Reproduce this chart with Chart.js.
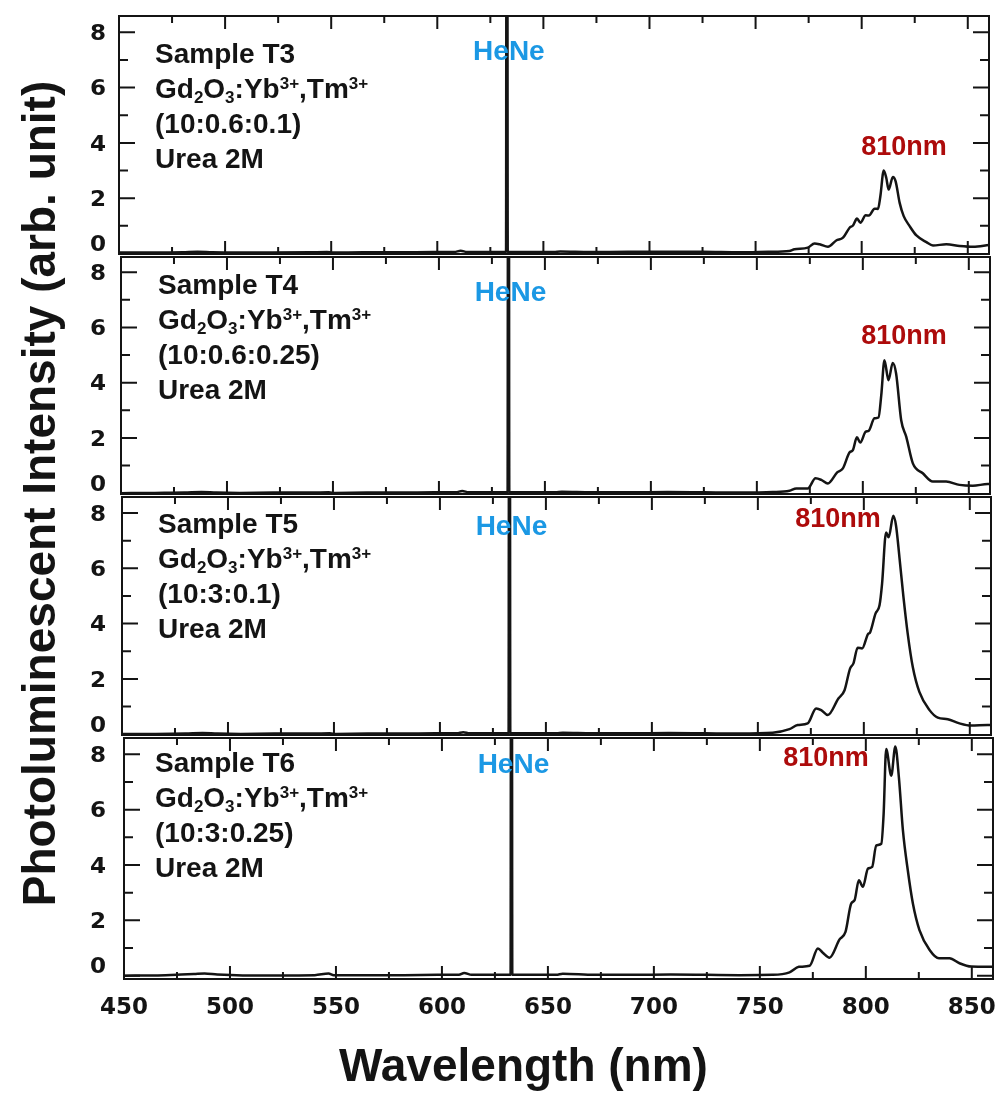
<!DOCTYPE html>
<html>
<head>
<meta charset="utf-8">
<title>Photoluminescence spectra, samples T3–T6</title>
<script src="https://cdn.jsdelivr.net/npm/chart.js@4.4.1/dist/chart.umd.min.js"></script>
<style>
  html, body { margin: 0; padding: 0; background: #ffffff; }
  #wrap { position: relative; width: 996px; height: 1094px; }
  #wrap canvas { position: absolute; left: 0; top: 0; }
</style>
</head>
<body>
<div id="wrap">
  <canvas id="panelT3" width="996" height="1094"></canvas>
  <canvas id="panelT4" width="996" height="1094"></canvas>
  <canvas id="panelT5" width="996" height="1094"></canvas>
  <canvas id="panelT6" width="996" height="1094"></canvas>
</div>
<script>
// ---- tick labels and annotation text ----
const xTicks = [450, 500, 550, 600, 650, 700, 750, 800, 850];
const yTicks = [0, 2, 4, 6, 8];
const sampleNames = ['Sample T3', 'Sample T4', 'Sample T5', 'Sample T6'];
const ratios = ['(10:0.6:0.1)', '(10:0.6:0.25)', '(10:3:0.1)', '(10:3:0.25)'];
const solvent = 'Urea 2M';
const laserName = 'HeNe';
const laserLine = 632.8;          // nm, HeNe excitation line (off scale)
const peakLabel = '810nm';
const xTitle = 'Wavelength (nm)';
const yTitle = 'Photoluminescent Intensity (arb. unit)';

// ---- spectra: wavelength (nm) and intensity (arb. unit) ----
const wavelengthT3 = [450, 466, 480, 487, 494, 505, 522, 540, 548, 551, 565, 582, 598, 608, 611, 614, 622, 632.4, 632.6, 633.0, 633.2, 642, 655, 658, 672, 690, 708, 725,
  742.4, 756, 765.9, 768.3, 774.6, 777.8, 780.2, 784.1, 788.0, 791.2, 794.3, 795.9, 797.8, 799.4, 801.9, 803.4, 806.1, 807.7, 808.8,
  810.4, 811.6, 812.7, 814.7, 816.0, 817.9, 819.8, 822.6, 825.8, 830.5, 833.6, 839.9, 846.2, 852.5, 860];
const intensityT3 = [0.03, 0.03, 0.04, 0.06, 0.04, 0.03, 0.03, 0.04, 0.05, 0.03, 0.04, 0.04, 0.05, 0.05, 0.10, 0.05, 0.05, 0.05, 14, 14, 0.05, 0.05, 0.05, 0.07, 0.05, 0.06, 0.06, 0.06,
  0.04, 0.06, 0.09, 0.15, 0.21, 0.36, 0.33, 0.24, 0.47, 0.57, 0.93, 1.01, 1.26, 1.11, 1.38, 1.37, 1.62, 1.61, 2.07,
  3.00, 2.73, 2.31, 2.77, 2.61, 1.83, 1.35, 0.99, 0.65, 0.41, 0.29, 0.33, 0.27, 0.24, 0.31];

const wavelengthT4 = [450, 466, 480, 488, 495, 506, 522, 540, 548, 551, 566, 582, 598, 608, 611, 614, 622, 632.4, 632.6, 633.0, 633.2, 642, 655, 658, 672, 690, 708, 725,
  741.8, 757.5, 765.4, 768.6, 774.0, 777.7, 780.4, 783.5, 787.9, 790.6, 793.7, 795.3, 797.2, 798.8, 801.3, 802.8, 805.5, 807.4, 808.7,
  810.2, 812.1, 814.1, 815.7, 818.1, 820.5, 823.6, 828.3, 833.0, 839.3, 845.6, 851.9, 858.9, 860];
const intensityT4 = [0.00, 0.01, 0.02, 0.04, 0.02, 0.01, 0.02, 0.02, 0.03, 0.01, 0.02, 0.02, 0.03, 0.03, 0.08, 0.03, 0.03, 0.03, 14, 14, 0.03, 0.03, 0.03, 0.05, 0.03, 0.03, 0.04, 0.03,
  0.02, 0.04, 0.09, 0.17, 0.17, 0.54, 0.48, 0.35, 0.75, 0.90, 1.47, 1.56, 2.02, 1.83, 2.22, 2.26, 2.71, 2.74, 3.55,
  4.81, 4.09, 4.71, 4.33, 2.64, 2.04, 1.08, 0.72, 0.42, 0.42, 0.30, 0.27, 0.33, 0.33];

const wavelengthT5 = [450, 466, 480, 488, 495, 506, 522, 540, 548, 551, 566, 582, 598, 608, 611, 614, 622, 632.4, 632.6, 633.0, 633.2, 642, 655, 658, 672, 690, 708, 725,
  741.3, 757.0, 764.9, 768.8, 773.5, 777.5, 779.9, 783.0, 788.0, 790.9, 793.5, 795.1, 797.1, 799.2, 801.9, 803.0, 805.5, 807.4, 808.6,
  810.5, 811.7, 813.9, 815.2, 816.8, 818.7, 820.7, 823.1, 826.2, 831.0, 834.9, 839.6, 845.1, 850.6, 858.4, 860];
const intensityT5 = [0.01, 0.01, 0.02, 0.04, 0.02, 0.01, 0.02, 0.02, 0.03, 0.01, 0.02, 0.02, 0.03, 0.03, 0.07, 0.03, 0.03, 0.03, 14, 14, 0.03, 0.03, 0.03, 0.05, 0.03, 0.03, 0.04, 0.03,
  0.02, 0.05, 0.18, 0.33, 0.39, 0.93, 0.87, 0.69, 1.29, 1.59, 2.37, 2.56, 3.13, 3.10, 3.61, 3.69, 4.36, 4.66, 5.44,
  7.30, 7.12, 7.90, 7.54, 6.40, 4.96, 3.64, 2.43, 1.53, 0.87, 0.60, 0.54, 0.39, 0.31, 0.33, 0.33];

const wavelengthT6 = [450, 466, 477, 483, 488, 494, 506, 522, 540, 546.5, 549, 566, 582, 598, 608, 610.5, 614, 622, 632.4, 632.6, 633.0, 633.2, 642, 654, 657, 672, 690, 708, 725,
  740.4, 756.1, 764.0, 768.4, 773.5, 777.4, 779.7, 782.9, 787.6, 790.4, 793.1, 794.7, 796.7, 798.6, 801.0, 803.0, 804.9, 807.3, 808.4,
  809.6, 812.0, 813.9, 815.6, 817.5, 819.8, 822.2, 825.3, 830.1, 834.5, 839.5, 844.2, 849.7, 857.5, 860];
const intensityT6 = [0.00, 0.01, 0.04, 0.06, 0.08, 0.04, 0.01, 0.01, 0.02, 0.08, 0.02, 0.02, 0.02, 0.03, 0.03, 0.10, 0.03, 0.03, 0.03, 14, 14, 0.03, 0.03, 0.03, 0.07, 0.03, 0.03, 0.04, 0.03,
  0.02, 0.03, 0.12, 0.32, 0.36, 0.98, 0.83, 0.65, 1.31, 1.58, 2.61, 2.73, 3.45, 3.21, 3.87, 3.93, 4.71, 4.77, 5.85,
  8.19, 7.23, 8.28, 7.17, 5.25, 3.81, 2.61, 1.65, 0.93, 0.63, 0.63, 0.45, 0.33, 0.32, 0.32];

// ---- panel geometry (pixels) and axis ranges ----
const panelLayout = [
  { left: 119, right: 989, top: 16,  bottom: 254, ymin: -0.02, ymax: 8.59, textX: 155, textY: 62.5,  laserY: 60,  peakX: 904, peakY: 155 },
  { left: 121, right: 990, top: 257, bottom: 494, ymin: -0.03, ymax: 8.55, textX: 158, textY: 293.5, laserY: 301, peakX: 904, peakY: 344 },
  { left: 122, right: 991, top: 497, bottom: 735, ymin: -0.03, ymax: 8.58, textX: 158, textY: 532.5, laserY: 535, peakX: 838, peakY: 527 },
  { left: 124, right: 993, top: 738, bottom: 979, ymin: -0.12, ymax: 8.59, textX: 155, textY: 771.5, laserY: 773, peakX: 826, peakY: 766 }
];

const FONT = '"Liberation Sans", Arial, Helvetica, sans-serif';
const TICK_FONT = '"DejaVu Sans", "Liberation Sans", sans-serif';
const INK = '#141414';
const LASER_BLUE = '#1b98e4';
const PEAK_RED = '#ad0b0b';

// Gd2O3:Yb3+,Tm3+ split into normal / subscript / superscript runs
const compositionRuns = [['Gd', ''], ['2', 'sub'], ['O', ''], ['3', 'sub'], [':Yb', ''], ['3+', 'sup'], [',Tm', ''], ['3+', 'sup']];

function drawRuns(ctx, runs, x, y, size) {
  let cx = x;
  for (const [txt, kind] of runs) {
    const fs = kind ? Math.round(size * 0.62) : size;
    ctx.font = `bold ${fs}px ${FONT}`;
    const dy = kind === 'sub' ? size * 0.19 : kind === 'sup' ? -size * 0.32 : 0;
    ctx.fillText(txt, cx, y + dy);
    cx += ctx.measureText(txt).width;
  }
}

function stretchedText(ctx, txt, x, y, sx) {
  ctx.save();
  ctx.translate(x, y);
  ctx.scale(sx, 1);
  ctx.fillText(txt, 0, 0);
  ctx.restore();
}

// frame, inward ticks, tick labels and annotations for one panel
function panelDecor(box, idx, isBottom) {
  return {
    id: 'panelDecor' + idx,
    afterDatasetsDraw(chart) {
      const { ctx, chartArea: a, scales: { x, y } } = chart;
      ctx.save();
      ctx.strokeStyle = INK;
      ctx.lineWidth = 2;
      ctx.strokeRect(a.left, a.top, a.right - a.left, a.bottom - a.top);

      ctx.beginPath();
      for (let v = 0; v <= 8; v++) {
        const py = y.getPixelForValue(v);
        if (py > a.bottom - 1 || py < a.top + 1) continue;
        const len = v % 2 === 0 ? 16 : 9;
        ctx.moveTo(a.left, py); ctx.lineTo(a.left + len, py);
        ctx.moveTo(a.right, py); ctx.lineTo(a.right - len, py);
      }
      for (let v = 475; v < 860; v += 25) {
        const px = x.getPixelForValue(v);
        const len = v % 50 === 0 ? 13 : 7;
        ctx.moveTo(px, a.top); ctx.lineTo(px, a.top + len);
        ctx.moveTo(px, a.bottom); ctx.lineTo(px, a.bottom - len);
      }
      ctx.stroke();

      // y tick labels (the zero label sits a little above its tick)
      ctx.fillStyle = INK;
      ctx.font = `bold 21px ${TICK_FONT}`;
      ctx.textAlign = 'right';
      ctx.textBaseline = 'alphabetic';
      yTicks.forEach(v => {
        const py = y.getPixelForValue(v) - (v === 0 ? 10 : 0);
        stretchedText(ctx, String(v), 106, py + 7.7, 1.1);
      });

      // sample description block
      ctx.textAlign = 'left';
      const lh = 35.3;
      ctx.font = `bold 28px ${FONT}`;
      ctx.fillText(sampleNames[idx], box.textX, box.textY);
      drawRuns(ctx, compositionRuns, box.textX, box.textY + lh, 28);
      ctx.font = `bold 28px ${FONT}`;
      ctx.fillText(ratios[idx], box.textX, box.textY + 2 * lh);
      ctx.fillText(solvent, box.textX, box.textY + 3 * lh);

      // laser line and emission band labels
      ctx.textAlign = 'center';
      ctx.fillStyle = LASER_BLUE;
      ctx.fillText(laserName, x.getPixelForValue(laserLine) + 2, box.laserY);
      ctx.fillStyle = PEAK_RED;
      ctx.font = `bold 27px ${FONT}`;
      ctx.fillText(peakLabel, box.peakX, box.peakY);

      if (isBottom) {
        ctx.fillStyle = INK;
        ctx.font = `bold 23px ${TICK_FONT}`;
        ctx.textAlign = 'center';
        xTicks.forEach(v => ctx.fillText(String(v), x.getPixelForValue(v), 1014));

        ctx.font = `bold 46px ${FONT}`;
        ctx.fillText(xTitle, 523.5, 1081);

        ctx.save();
        ctx.translate(55, 493.5);
        ctx.rotate(-Math.PI / 2);
        ctx.fillText(yTitle, 0, 0);
        ctx.restore();
      }
      ctx.restore();
    }
  };
}

function buildPanel(canvasId, wavelengths, intensities, idx) {
  const box = panelLayout[idx];
  return new Chart(document.getElementById(canvasId), {
    type: 'line',
    data: {
      datasets: [{
        data: wavelengths.map((w, i) => ({ x: w, y: intensities[i] })),
        borderColor: INK,
        borderWidth: 2.5,
        pointRadius: 0,
        fill: false,
        cubicInterpolationMode: 'monotone',
        clip: 0
      }]
    },
    options: {
      responsive: false,
      animation: false,
      devicePixelRatio: 1,
      events: [],
      layout: { padding: { left: box.left, right: 996 - box.right, top: box.top, bottom: 1094 - box.bottom } },
      plugins: { legend: { display: false }, tooltip: { enabled: false } },
      scales: {
        x: { type: 'linear', min: 450, max: 860, display: false },
        y: { type: 'linear', min: box.ymin, max: box.ymax, display: false }
      }
    },
    plugins: [panelDecor(box, idx, idx === 3)]
  });
}

buildPanel('panelT3', wavelengthT3, intensityT3, 0);
buildPanel('panelT4', wavelengthT4, intensityT4, 1);
buildPanel('panelT5', wavelengthT5, intensityT5, 2);
buildPanel('panelT6', wavelengthT6, intensityT6, 3);
</script>
</body>
</html>
